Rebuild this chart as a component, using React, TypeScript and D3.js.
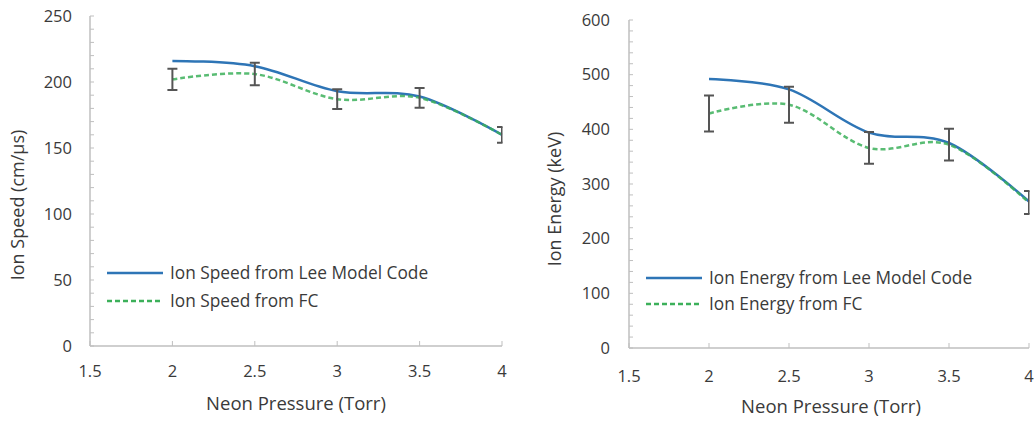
import React from "react";
import * as d3 from "d3";

const pressures = [2, 2.5, 3, 3.5, 4];
const speedLee = [216, 212, 193, 189, 160];
const speedFC = [202, 206, 187, 188, 160];
const speedErr = [8, 8.5, 7.5, 7.5, 6];
const energyLee = [492, 473, 394, 375, 268];
const energyFC = [429, 445, 366, 372, 266];
const energyErr = [33, 33, 29, 29, 21];
const xTicks = [1.5, 2, 2.5, 3, 3.5, 4];
const speedTicks = [0, 50, 100, 150, 200, 250];
const energyTicks = [0, 100, 200, 300, 400, 500, 600];

const FONT = "'Open Sans', sans-serif";
const TEXT = "#3a3a3a";
const AXIS = "#bfbfbf";
const BLUE = "#2e75b6";
const GREEN = "#3cb05a";

type PanelProps = {
  id: string;
  x0: number; x1: number; y0: number; y1: number;
  yMax: number; yMinor: number; yTicks: number[];
  lee: number[]; fc: number[]; err: number[];
  yTitle: string; yTitleX: number; yTitleY: number;
  xTitleX: number; xTitleY: number; xLabelY: number; yLabelX: number;
  legX: number; legY1: number; legY2: number;
  legLee: string; legFC: string;
};

function Panel(p: PanelProps) {
  const x = d3.scaleLinear().domain([1.5, 4]).range([p.x0, p.x1]);
  const y = d3.scaleLinear().domain([0, p.yMax]).range([p.y0, p.y1]);
  const line = d3
    .line<number>()
    .x((_, i) => x(pressures[i]))
    .y((d) => y(d))
    .curve(d3.curveCardinal.tension(0));
  const minor = d3.range(0, p.yMax + 0.001, p.yMinor);
  return (
    <g>
      <defs>
        <clipPath id={p.id}>
          <rect x={p.x0} y={p.y1 - 10} width={p.x1 - p.x0 + 0.5} height={p.y0 - p.y1 + 20} />
        </clipPath>
      </defs>
      <line x1={p.x0} x2={p.x0} y1={y(p.yMax)} y2={y(0)} stroke={AXIS} strokeWidth={1.5} />
      <line x1={p.x0} x2={p.x1} y1={y(0)} y2={y(0)} stroke={AXIS} strokeWidth={1.5} />
      {minor.map((v) => (
        <line key={v} x1={p.x0} x2={p.x0 + 4} y1={y(v)} y2={y(v)} stroke={AXIS} strokeWidth={1} />
      ))}
      {xTicks.map((v) => (
        <line key={v} x1={x(v)} x2={x(v)} y1={y(0)} y2={y(0) - 5} stroke={AXIS} strokeWidth={1} />
      ))}
      {p.yTicks.map((v) => (
        <text key={v} x={p.yLabelX} y={y(v)} dy="0.35em" textAnchor="end" fontSize={16.5} fill={TEXT} fontFamily={FONT}>
          {v}
        </text>
      ))}
      {xTicks.map((v) => (
        <text key={v} x={x(v)} y={p.xLabelY} dy="0.35em" textAnchor="middle" fontSize={16.5} fill={TEXT} fontFamily={FONT}>
          {v}
        </text>
      ))}
      <text x={p.xTitleX} y={p.xTitleY} dy="0.35em" textAnchor="middle" fontSize={18.5} fill={TEXT} fontFamily={FONT}>
        Neon Pressure (Torr)
      </text>
      <text
        transform={`translate(${p.yTitleX},${p.yTitleY}) rotate(-90)`}
        dy="0.35em"
        textAnchor="middle"
        fontSize={18}
        fill={TEXT}
        fontFamily={FONT}
      >
        {p.yTitle}
      </text>
      <g clipPath={`url(#${p.id})`}>
        <path d={line(p.lee) || ""} fill="none" stroke={BLUE} strokeWidth={2.5} />
        <path d={line(p.fc) || ""} fill="none" stroke={GREEN} strokeWidth={2.5} strokeDasharray="5,3" opacity={0.85} />
        {pressures.map((px, i) => {
          const cx = x(px);
          const top = y(p.fc[i] + p.err[i]);
          const bot = y(p.fc[i] - p.err[i]);
          return (
            <g key={px} stroke="#555" strokeWidth={2}>
              <line x1={cx} x2={cx} y1={top} y2={bot} />
              <line x1={cx - 5} x2={cx + 5} y1={top} y2={top} />
              <line x1={cx - 5} x2={cx + 5} y1={bot} y2={bot} />
            </g>
          );
        })}
      </g>
      <line x1={p.legX} x2={p.legX + 56} y1={p.legY1} y2={p.legY1} stroke={BLUE} strokeWidth={2.5} />
      <line x1={p.legX} x2={p.legX + 56} y1={p.legY2} y2={p.legY2} stroke={GREEN} strokeWidth={2.5} strokeDasharray="5,3" />
      <text x={p.legX + 63} y={p.legY1} dy="0.35em" fontSize={17.3} fill={TEXT} fontFamily={FONT}>
        {p.legLee}
      </text>
      <text x={p.legX + 63} y={p.legY2} dy="0.35em" fontSize={17.3} fill={TEXT} fontFamily={FONT}>
        {p.legFC}
      </text>
    </g>
  );
}

export default function App() {
  return (
    <svg width={1034} height={421} style={{ position: "absolute", left: 0, top: 0, background: "#fff" }}>
      <rect width={1034} height={421} fill="#fff" />
      <Panel
        id="clipA"
        x0={90} x1={502} y0={346} y1={16}
        yMax={250} yMinor={10} yTicks={speedTicks}
        lee={speedLee} fc={speedFC} err={speedErr}
        yTitle="Ion Speed (cm/µs)" yTitleX={18} yTitleY={205}
        xTitleX={296} xTitleY={404} xLabelY={371} yLabelX={72}
        legX={107} legY1={273} legY2={301}
        legLee="Ion Speed from Lee Model Code" legFC="Ion Speed from FC"
      />
      <Panel
        id="clipB"
        x0={629} x1={1029} y0={348} y1={20}
        yMax={600} yMinor={20} yTicks={energyTicks}
        lee={energyLee} fc={energyFC} err={energyErr}
        yTitle="Ion Energy (keV)" yTitleX={555} yTitleY={199}
        xTitleX={831} xTitleY={407} xLabelY={376} yLabelX={610}
        legX={646} legY1={278} legY2={304}
        legLee="Ion Energy from Lee Model Code" legFC="Ion Energy from FC"
      />
    </svg>
  );
}
